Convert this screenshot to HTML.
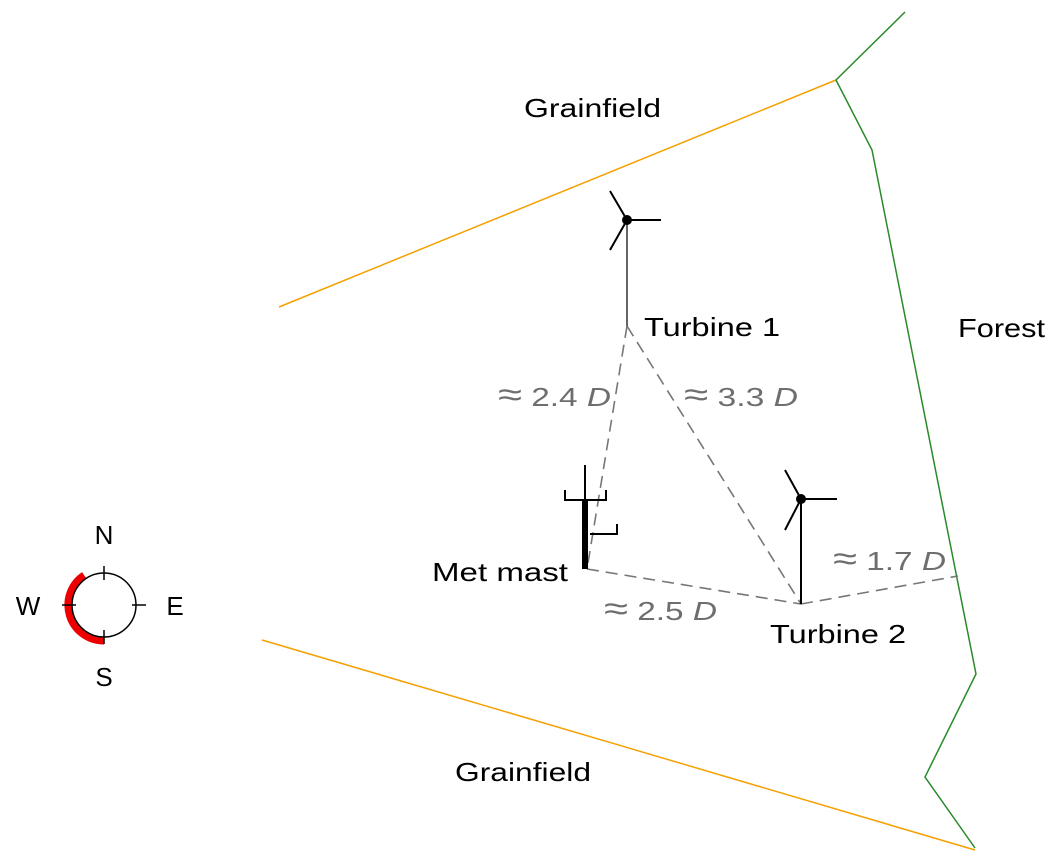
<!DOCTYPE html>
<html><head><meta charset="utf-8"><style>body{margin:0;background:#fff}svg{display:block}text{font-family:"Liberation Sans",sans-serif;font-size:26px}</style></head><body>
<svg width="1058" height="866" viewBox="0 0 1058 866" xmlns="http://www.w3.org/2000/svg">
<g fill="none" stroke-width="1.5">
<path d="M279,307 L836,80" stroke="#f5a000"/>
<path d="M262,640 L975,850" stroke="#f5a000"/>
<path d="M905,12 L836,80 L872,150 L976,674 L925,777 L975,848" stroke="#2a8a2a"/>
</g>
<g stroke="#777" stroke-width="1.6" stroke-dasharray="12,7" fill="none">
<path d="M627,326 L587,569"/>
<path d="M627,326 L801,604"/>
<path d="M587,569 L801,604"/>
<path d="M801,604 L958,576"/>
</g>
<g stroke="#000" stroke-width="2" fill="none">
<path d="M627,220 V326" stroke-width="1.2"/>
<path d="M627,220 L610,191 M627,220 L610,250 M627,220 H661"/>
<path d="M801,499 V604"/>
<path d="M801,499 L785,470 M801,499 L785,530 M801,499 H837"/>
<path d="M585,465 V500"/>
<path d="M565,490 V500 H606 V490"/>
<path d="M590,534 H617 V524"/>
</g>
<circle cx="627" cy="220" r="5"/>
<circle cx="801" cy="499" r="5"/>
<rect x="582" y="500" width="6" height="69"/>
<path d="M84,575 A36,36 0 0 0 104,641" fill="none" stroke="#e00" stroke-width="7"/>
<circle cx="104" cy="605" r="32" fill="none" stroke="#000" stroke-width="1.5"/>
<g stroke="#000" stroke-width="1.5"><path d="M104,566 V580 M104,630 V644 M62,605 H76 M132,605 H146"/></g>
<g fill="#000">
<text x="104" y="544" text-anchor="middle">N</text>
<text x="104" y="686" text-anchor="middle">S</text>
<text x="28" y="615" text-anchor="middle">W</text>
<text x="175" y="615" text-anchor="middle">E</text>
<text x="524" y="117" textLength="137" lengthAdjust="spacingAndGlyphs">Grainfield</text>
<text x="455" y="781" textLength="136" lengthAdjust="spacingAndGlyphs">Grainfield</text>
<text x="958" y="337" textLength="87" lengthAdjust="spacingAndGlyphs">Forest</text>
<text x="644" y="336" textLength="136" lengthAdjust="spacingAndGlyphs">Turbine 1</text>
<text x="770" y="643" textLength="136" lengthAdjust="spacingAndGlyphs">Turbine 2</text>
<text x="432" y="581" textLength="136" lengthAdjust="spacingAndGlyphs">Met mast</text>
</g>
<g fill="#6e6e6e">
<text x="498" y="406" textLength="113" lengthAdjust="spacingAndGlyphs"><tspan font-size="34">≈</tspan> 2.4 <tspan font-style="italic">D</tspan></text>
<text x="684" y="406" textLength="114" lengthAdjust="spacingAndGlyphs"><tspan font-size="34">≈</tspan> 3.3 <tspan font-style="italic">D</tspan></text>
<text x="604" y="620" textLength="113" lengthAdjust="spacingAndGlyphs"><tspan font-size="34">≈</tspan> 2.5 <tspan font-style="italic">D</tspan></text>
<text x="833" y="570" textLength="113" lengthAdjust="spacingAndGlyphs"><tspan font-size="34">≈</tspan> 1.7 <tspan font-style="italic">D</tspan></text>
</g>
</svg>
</body></html>
